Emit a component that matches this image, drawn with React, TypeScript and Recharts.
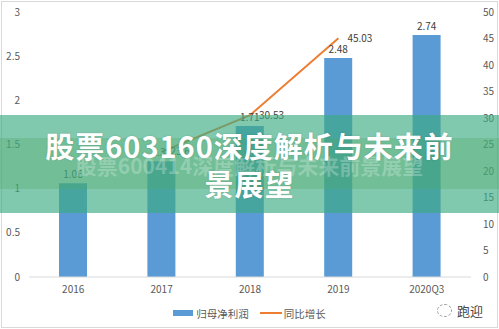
import { ComposedChart, Bar, Line, XAxis, YAxis, Legend, LabelList } from 'recharts';

const categories = ['2016', '2017', '2018', '2019', '2020Q3'];
const netProfit = [1.06, 1.31, 1.71, 2.48, 2.74];
const yoyGrowth = [null, 23.6, 30.53, 45.03, null];
const leftTicks = [0, 0.5, 1, 1.5, 2, 2.5, 3];
const rightTicks = [0, 5, 10, 15, 20, 25, 30, 35, 40, 45, 50];
const seriesNames = ['归母净利润', '同比增长'];

const data = categories.map((cat, i) => ({
  cat,
  profit: netProfit[i],
  growth: yoyGrowth[i],
}));

const BLUE = '#5B9BD5';
const ORANGE = '#ED7D31';
const AXIS_TEXT = '#595959';

function LegendContent() {
  return (
    <div style={{ display: 'flex', justifyContent: 'center', alignItems: 'center', height: 28, paddingBottom: 4, boxSizing: 'border-box', fontSize: 10.5, color: AXIS_TEXT }}>
      <span style={{ display: 'inline-block', width: 20, height: 6, background: BLUE, marginRight: 3 }} />
      <span style={{ marginRight: 11 }}>{seriesNames[0]}</span>
      <span style={{ display: 'inline-block', width: 22, height: 2, background: ORANGE, marginRight: 2 }} />
      <span>{seriesNames[1]}</span>
    </div>
  );
}

export default function App() {
  return (
    <div style={{ position: 'absolute', left: 0, top: 0, width: 499, height: 329, background: '#fff', overflow: 'hidden', fontFamily: "'Noto Sans CJK SC', 'Noto Sans', sans-serif" }}>
      <ComposedChart width={499} height={329} data={data} margin={{ top: 12, right: 0, bottom: 0, left: 0 }}>
        <XAxis dataKey="cat" axisLine={{ stroke: '#d9d9d9' }} tickLine={false} tickSize={0} tickMargin={9} height={24} tick={{ fontSize: 10, fill: AXIS_TEXT }} />
        <YAxis yAxisId="left" width={29} domain={[0, 3]} ticks={leftTicks} axisLine={false} tickLine={false} tickSize={0} tickMargin={9} tick={{ fontSize: 10, fill: AXIS_TEXT }} />
        <YAxis yAxisId="right" orientation="right" width={28} domain={[0, 50]} ticks={rightTicks} axisLine={false} tickLine={false} tickSize={0} tickMargin={12} tick={{ fontSize: 10, fill: AXIS_TEXT }} />
        <Legend verticalAlign="bottom" height={28} content={<LegendContent />} />
        <Bar yAxisId="left" dataKey="profit" name={seriesNames[0]} fill={BLUE} barSize={28} isAnimationActive={false}>
          <LabelList dataKey="profit" position="top" offset={5} style={{ fontSize: 10, fill: '#404040' }} />
        </Bar>
        <Line yAxisId="right" dataKey="growth" name={seriesNames[1]} stroke={ORANGE} strokeWidth={2} dot={false} connectNulls={false} isAnimationActive={false}>
          <LabelList dataKey="growth" position="right" offset={9} style={{ fontSize: 10, fill: '#404040' }} />
        </Line>
      </ComposedChart>

      {/* watermark */}
      <div style={{ position: 'absolute', left: 437, top: 301, display: 'flex', alignItems: 'center', color: '#444', fontSize: 13 }}>
        <span style={{ display: 'inline-block', width: 13, height: 11, border: '1px dashed #999', borderRadius: '50%', marginRight: 5 }} />
        <span>跑迎</span>
      </div>

      {/* frame */}
      <div style={{ position: 'absolute', left: 1, top: 1, right: 1, bottom: 1, border: '1px solid #d9d9d9' }} />

      {/* banner overlay */}
      <div style={{ position: 'absolute', left: 0, top: 115, width: 499, height: 98, background: 'rgba(60,170,130,0.65)' }} />
      <div style={{ position: 'absolute', left: 0, top: 138, width: 499, height: 51, background: 'rgba(80,170,100,0.3)' }} />
      <div style={{ position: 'absolute', left: 0, top: 152, width: 499, textAlign: 'center', fontSize: 21, fontWeight: 700, lineHeight: '26px', color: 'rgba(255,255,255,0.25)', whiteSpace: 'nowrap' }}>
        股票600414深度解析与未来前景展望
      </div>
      <div style={{ position: 'absolute', left: 0, top: 126, width: 499, textAlign: 'center', fontSize: 29, fontWeight: 700, lineHeight: '38px', letterSpacing: 1, color: '#fff', whiteSpace: 'nowrap', textShadow: '0 0 2px rgba(0,0,0,0.15)' }}>
        股票603160深度解析与未来前
        <br />
        景展望
      </div>
    </div>
  );
}
